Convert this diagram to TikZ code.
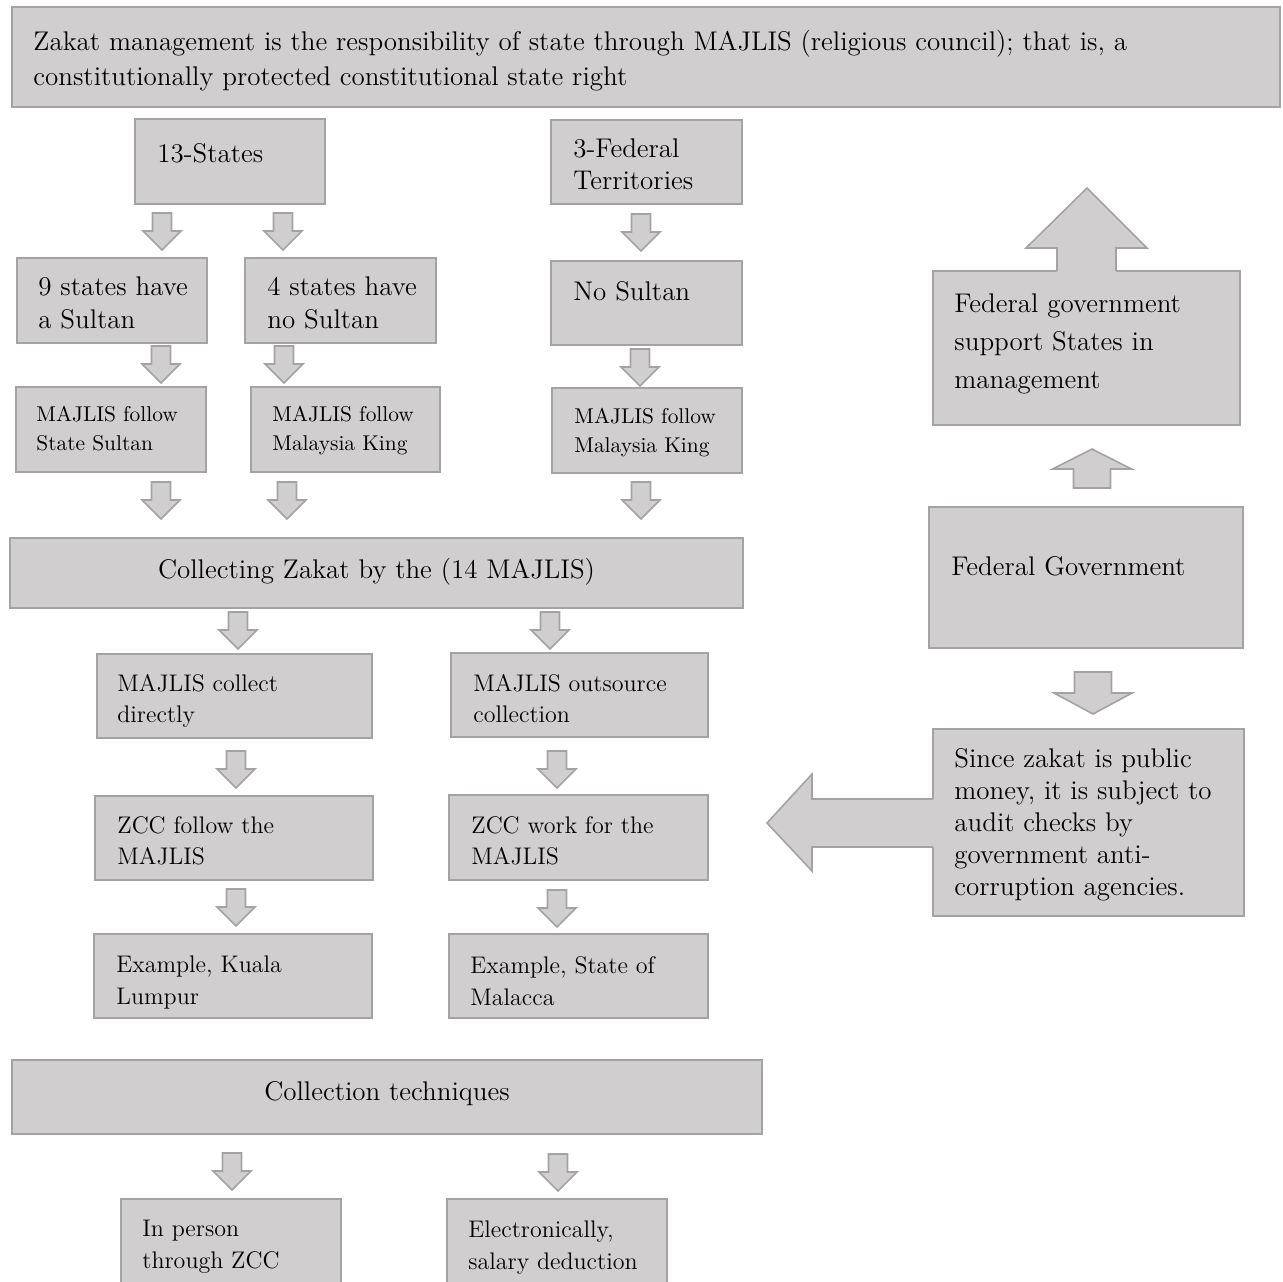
\documentclass[tikz,border=0pt]{standalone}
\definecolor{boxgray}{HTML}{D0CECE}
\definecolor{linegray}{HTML}{A3A3A3}
\begin{document}
\begin{tikzpicture}[x=0.5pt,y=-0.5pt,
    boxfill/.style={fill=boxgray,draw=linegray,line width=0.8pt},
    bigtxt/.style={anchor=base west,align=left,inner sep=0pt,font=\fontsize{13.5}{#1}\selectfont},
    bigtxt/.default=17.5,
    midtxt/.style={anchor=base west,align=left,inner sep=0pt,font=\fontsize{12}{#1}\selectfont},
    midtxt/.default=15.5,
    smltxt/.style={anchor=base west,align=left,inner sep=0pt,font=\fontsize{10.7}{14.5}\selectfont},
    dnarr/.pic={\draw[boxfill] (-9.5,0) -- (9.5,0) -- (9.5,18) -- (19,18) -- (0,37) -- (-19,18) -- (-9.5,18) -- cycle;},
    dnwide/.pic={\draw[boxfill] (-18.5,0) -- (18.5,0) -- (18.5,21) -- (39,21) -- (0,42) -- (-39,21) -- (-18.5,21) -- cycle;},
    upwide/.pic={\draw[boxfill] (-18.5,0) -- (18.5,0) -- (18.5,-19) -- (39.5,-19) -- (0,-39) -- (-39.5,-19) -- (-18.5,-19) -- cycle;}]
    \useasboundingbox (0,0) rectangle (1283,1281);
    \clip (0,0) rectangle (1283,1281);
    \draw[boxfill] (12,7) rectangle (1280,107);
    \draw[boxfill] (135,119) rectangle (325,204);
    \draw[boxfill] (551,120) rectangle (742,204);
    \draw[boxfill] (17,258) rectangle (207,343);
    \draw[boxfill] (245,258) rectangle (436,343);
    \draw[boxfill] (551,261) rectangle (742,345);
    \draw[boxfill] (16,387) rectangle (206,472);
    \draw[boxfill] (251,387) rectangle (440,472);
    \draw[boxfill] (552,388) rectangle (742,473);
    \draw[boxfill] (10,538) rectangle (743,608);
    \draw[boxfill] (97,654) rectangle (372,738);
    \draw[boxfill] (451,653) rectangle (708,737);
    \draw[boxfill] (95,796) rectangle (373,880);
    \draw[boxfill] (449,795) rectangle (708,880);
    \draw[boxfill] (94,934) rectangle (372,1018);
    \draw[boxfill] (449,934) rectangle (708,1018);
    \draw[boxfill] (12,1060) rectangle (762,1134);
    \draw[boxfill] (121,1199) rectangle (341,1300);
    \draw[boxfill] (447,1199) rectangle (667,1300);
    \draw[boxfill] (933,271) rectangle (1240,425);
    \draw[boxfill] (929,507) rectangle (1243,648);
    \draw[boxfill] (933,729) rectangle (1244,916);
    \pic (a11) at (162,213) {dnarr};
    \pic (a12) at (283,213) {dnarr};
    \pic (a13) at (641,214) {dnarr};
    \pic (a21) at (161,346) {dnarr};
    \pic (a22) at (284,346) {dnarr};
    \pic (a23) at (640,349) {dnarr};
    \pic (a31) at (161,482) {dnarr};
    \pic (a32) at (287,482) {dnarr};
    \pic (a33) at (641,482) {dnarr};
    \pic (a41) at (238,612) {dnarr};
    \pic (a42) at (550,612) {dnarr};
    \pic (a51) at (236,751) {dnarr};
    \pic (a52) at (557,751) {dnarr};
    \pic (a61) at (236,889) {dnarr};
    \pic (a62) at (557,890) {dnarr};
    \pic (a71) at (232,1153) {dnarr};
    \pic (a72) at (558,1154) {dnarr};
    \pic (fup) at (1092,488) {upwide};
    \pic (fdn) at (1093,672) {dnwide};
    \fill[boxgray] (1057,273) -- (1057,248) -- (1026,248) -- (1087,188) -- (1147,248) -- (1116,248) -- (1116,273) -- cycle;
    \draw[linegray,line width=0.8pt] (1057,271) -- (1057,248) -- (1026,248) -- (1087,188) -- (1147,248) -- (1116,248) -- (1116,271);
    \fill[boxgray] (935,799) -- (812,799) -- (812,774) -- (767,823) -- (812,871) -- (812,847) -- (935,847) -- cycle;
    \draw[linegray,line width=0.8pt] (933,799) -- (812,799) -- (812,774) -- (767,823) -- (812,871) -- (812,847) -- (933,847);
    \draw (33,85) node[bigtxt] (ttop) {Zakat management is the responsibility of state through MAJLIS (religious council); that is, a\\constitutionally protected constitutional state right};
    \draw (157,162) node[bigtxt] (t13) {13-States};
    \draw (573,189) node[bigtxt=16] (tfed) {3-Federal\\Territories};
    \draw (38,328) node[bigtxt=16.5] (t9) {9 states have\\a Sultan};
    \draw (267,328) node[bigtxt=16.5] (t4) {4 states have\\no Sultan};
    \draw (573,300) node[bigtxt] (tnos) {No Sultan};
    \draw (36,450) node[smltxt] (tmj1) {MAJLIS follow\\State Sultan};
    \draw (272,450) node[smltxt] (tmj2) {MAJLIS follow\\Malaysia King};
    \draw (574,452) node[smltxt] (tmj3) {MAJLIS follow\\Malaysia King};
    \draw (376.5,578) node[bigtxt,anchor=base] (tcoll) {Collecting Zakat by the (14 MAJLIS)};
    \draw (117,722) node[midtxt] (tdir) {MAJLIS collect\\directly};
    \draw (473,722) node[midtxt] (tout) {MAJLIS outsource\\collection};
    \draw (117,864) node[midtxt] (tzf) {ZCC follow the\\MAJLIS};
    \draw (471,864) node[midtxt] (tzw) {ZCC work for the\\MAJLIS};
    \draw (116,1004) node[midtxt=16] (tkl) {Example, Kuala\\Lumpur};
    \draw (470,1005) node[midtxt=16] (tmal) {Example, State of\\Malacca};
    \draw (387,1100) node[bigtxt,anchor=base] (ttech) {Collection techniques};
    \draw (142,1268) node[midtxt=16] (tper) {In person\\through ZCC};
    \draw (468,1269) node[midtxt=16] (telec) {Electronically,\\salary deduction};
    \draw (954,388) node[bigtxt=19] (tsup) {Federal government\\support States in\\management};
    \draw (951,575) node[bigtxt] (tgov) {Federal Government};
    \draw (954,895) node[bigtxt=16] (tsince) {Since zakat is public\\money, it is subject to\\audit checks by\\government anti-\\corruption agencies.};
\end{tikzpicture}
\end{document}
